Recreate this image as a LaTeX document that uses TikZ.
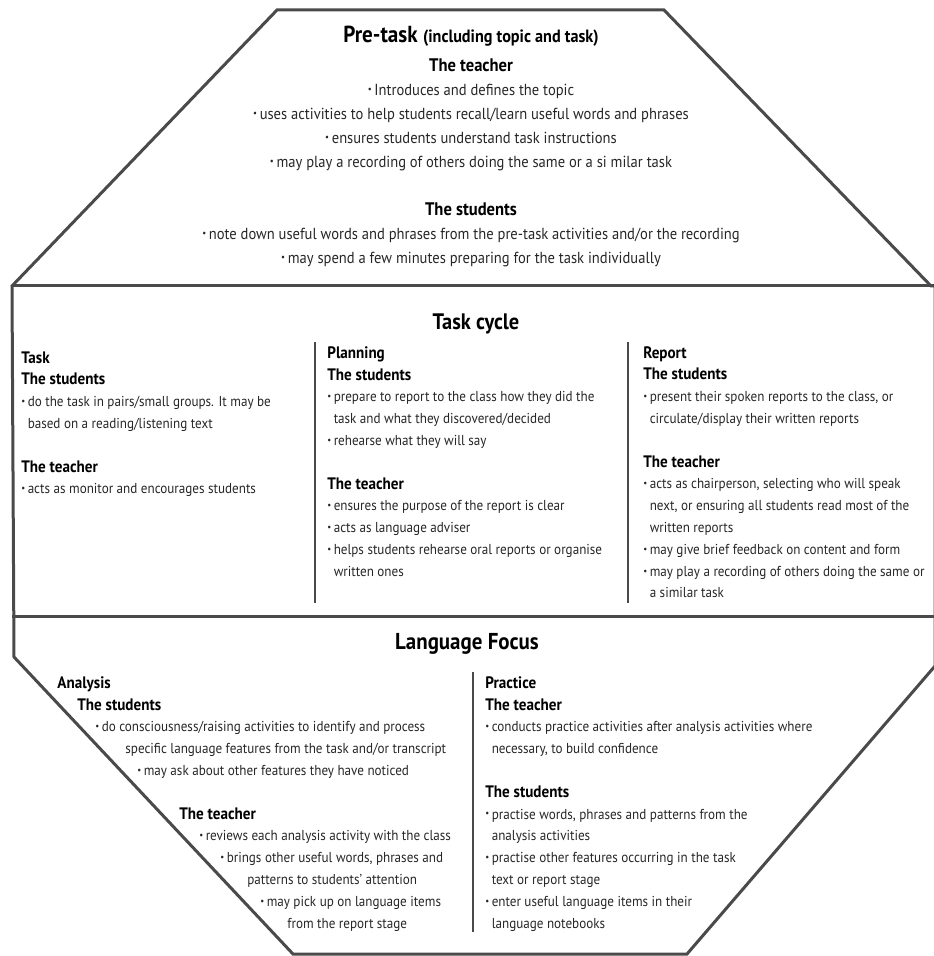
\documentclass[tikz,border=0pt]{standalone}
\usepackage{fontspec}
\setmainfont{PT Sans}[FakeStretch=0.91]
\usepackage{xcolor}
\definecolor{ink} {HTML}{262626}
\definecolor{rule}{HTML}{4A4A4A}
\newcommand\bul{\raisebox{0.3ex}{\fontsize{4.8}{4.8}\selectfont\textbullet}\,}
\newcommand\hang{\phantom{\bul}}
\newcommand\hd[1]{{\bfseries\fontsize{8.3}{10.9}\selectfont\color{black}#1}}
\tikzset{
  frame/.style  = {draw=rule, line width=1.5pt, line join=miter},
  colsep/.style = {draw=rule, line width=0.6pt},
  title/.style  = {font=\bfseries\fontsize{11.5}{13}\selectfont, text=black,
                   inner sep=0pt, anchor=base},
  pbody/.style  = {font=\fontsize{8}{12}\selectfont, text=ink,
                   inner sep=0pt, align=center, anchor=north},
  body/.style   = {font=\fontsize{7.2}{10.9}\selectfont, text=ink,
                   inner sep=0pt, align=left, anchor=north west},
}

\begin{document}
\begin{tikzpicture}[x=0.5pt, y=-0.5pt]
  \useasboundingbox (0,0) rectangle (933,956);

  % outline and the two dividers
  \draw[frame] (277,10) -- (664,10) -- (931,286) -- (935,286) -- (935,666)
    -- (687,954) -- (293,954) -- (14,657) -- (12,286) -- cycle;
  \draw[frame] (12,286) -- (935,286);
  \draw[frame] (12,616) -- (935,616);

  % column rules
  \coordinate (c1t) at (315,342);  \coordinate (c1b) at (315,603);
  \coordinate (c2t) at (628,342);  \coordinate (c2b) at (628,603);
  \coordinate (c3t) at (473,672);  \coordinate (c3b) at (473,932);
  \foreach \a/\b in {c1t/c1b, c2t/c2b, c3t/c3b}
    \draw[colsep] (\a) -- (\b);

  % pre-task
  \node[title, font=\bfseries\fontsize{11.6}{13}\selectfont] (pre) at (471,43)
    {Pre-task {\fontsize{8.9}{10}\selectfont(including topic and task)}};
  \node[pbody] (preall) at (471,58)
    {{\bfseries\fontsize{9.1}{12}\selectfont\color{black}The teacher}\\
     \bul Introduces and defines the topic\\
     \bul uses activities to help students recall/learn useful words and phrases\\
     \bul ensures students understand task instructions\\
     \bul may play a recording of others doing the same or a si milar task\\[12pt]
     {\bfseries\fontsize{9.1}{12}\selectfont\color{black}The students}\\
     \bul note down useful words and phrases from the pre-task activities and/or the recording\\
     \bul may spend a few minutes preparing for the task individually};

  % task cycle
  \node[title, font=\bfseries\fontsize{11.2}{13}\selectfont] (cycle) at (476,329)
    {Task cycle};

  \node[body] (task) at (21,351)
    {\hd{Task}\\
     \hd{The students}\\
     \bul do the task in pairs/small groups. It may be\\
     \hang based on a reading/listening text\\[10.9pt]
     \hd{The teacher}\\
     \bul acts as monitor and encourages students};

  \node[body] (plan) at (327,346)
    {\hd{Planning}\\
     \hd{The students}\\
     \bul prepare to report to the class how they did the\\
     \hang task and what they discovered/decided\\
     \bul rehearse what they will say\\[10.9pt]
     \hd{The teacher}\\
     \bul ensures the purpose of the report is clear\\
     \bul acts as language adviser\\
     \bul helps students rehearse oral reports or organise\\
     \hang written ones};

  \node[body] (report) at (643,346)
    {\hd{Report}\\
     \hd{The students}\\
     \bul present their spoken reports to the class, or\\
     \hang circulate/display their written reports\\[10.9pt]
     \hd{The teacher}\\
     \bul acts as chairperson, selecting who will speak\\
     \hang next, or ensuring all students read most of the\\
     \hang written reports\\
     \bul may give brief feedback on content and form\\
     \bul may play a recording of others doing the same or\\
     \hang a similar task};

  % language focus
  \node[title] (focus) at (467,649) {Language Focus};

  \node[body] (analysis) at (57,676)
    {\hd{Analysis}\\
     \hspace*{10pt}\hd{The students}\\
     \hspace*{19pt}\bul do consciousness/raising activities to identify and process\\
     \hspace*{34pt}specific language features from the task and/or transcript\\
     \hspace*{40pt}\bul may ask about other features they have noticed\\[10.9pt]
     \hspace*{61pt}\hd{The teacher}\\
     \hspace*{71pt}\bul reviews each analysis activity with the class\\
     \hspace*{81.5pt}\bul brings other useful\ words, phrases and\\
     \hspace*{95pt}patterns to students’ attention\\
     \hspace*{101.5pt}\bul may pick up on language items\\
     \hspace*{115pt}from the report stage};

  \node[body] (practice) at (485,676)
    {\hd{Practice}\\
     \hd{The teacher}\\
     \bul conducts practice activities after analysis activities where\\
     \hang necessary, to build confidence\\[10.9pt]
     \hd{The students}\\
     \bul practise words, phrases and patterns from the\\
     \hang analysis activities\\
     \bul practise other features occurring in the task\\
     \hang text or report stage\\
     \bul enter useful language items in their\\
     \hang language notebooks};

\end{tikzpicture}
\end{document}
